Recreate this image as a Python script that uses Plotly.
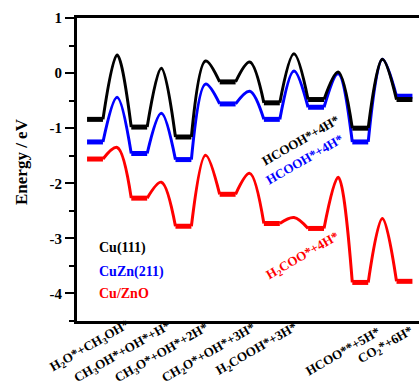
import plotly.graph_objects as go

# ---------------- data ----------------
series_names = ["Cu(111)", "CuZn(211)", "Cu/ZnO"]
state_labels = ["H<sub>2</sub>O*+CH<sub>3</sub>OH*",
                "CH<sub>3</sub>OH*+OH*+H*",
                "CH<sub>3</sub>O*+OH*+2H*",
                "CH<sub>2</sub>O*+OH*+3H*",
                "H<sub>2</sub>COOH*+3H*",
                "HCOO**+5H*",
                "CO<sub>2</sub>*+6H*"]
cu111_states = [-0.84, -0.98, -1.16, -0.16, -0.54, -0.48, -1.00, -0.48]
cu111_ts = [0.33, 0.09, 0.22, 0.20, 0.35, 0.02, 0.25]
cuzn_states = [-1.25, -1.46, -1.57, -0.56, -0.84, -0.62, -1.25, -0.42]
cuzn_ts = [-0.44, -0.73, -0.20, -0.33, 0.04, -0.01, 0.25]
cuzno_states = [-1.56, -2.27, -2.78, -2.20, -2.73, -2.82, -3.80, -3.78]
cuzno_ts = [-1.35, -1.98, -1.49, -1.82, -2.62, -1.89, -2.64]
y_ticks = [1, 0, -1, -2, -3, -4]
y_ticktext = ["1", "0", "-1", "-2", "-3", "-4"]

# ---------------- style ----------------
colors = ["#000000", "#0000FF", "#FF0000"]
FONT = "Liberation Serif"
W, H = 419, 385
ML, MR, MT, MB = 77, 0, 18, 64
PW, PH = W - ML - MR, H - MT - MB
HALF = 0.18  # plateau half width (x units)

def px(xp):
    return (xp - ML) / PW

def py(yp):
    return (MT + PH - yp) / PH

fig = go.Figure()
all_series = [(cuzno_states, cuzno_ts), (cuzn_states, cuzn_ts), (cu111_states, cu111_ts)]
order_colors = [colors[2], colors[1], colors[0]]
for (states, ts), col in zip(all_series, order_colors):
    # transition curves
    cx, cy = [], []
    for i, t in enumerate(ts):
        cx += [i + HALF, i + 0.5, i + 1 - HALF, None]
        cy += [states[i], t, states[i + 1], None]
    fig.add_trace(go.Scatter(x=cx, y=cy, mode="lines",
                             line=dict(color=col, width=3, shape="spline", smoothing=1.0),
                             connectgaps=False, hoverinfo="skip", showlegend=False))
    # plateaus
    plx, ply = [], []
    for i, s in enumerate(states):
        plx += [i - HALF, i + HALF, None]
        ply += [s, s, None]
    fig.add_trace(go.Scatter(x=plx, y=ply, mode="lines",
                             line=dict(color=col, width=5),
                             connectgaps=False, hoverinfo="skip", showlegend=False))

annotations = []
# legend texts
for name, col, yp in zip(series_names, colors, [248, 272, 293]):
    annotations.append(dict(text=name, xref="paper", yref="paper", x=px(97), y=py(yp),
                            xanchor="left", yanchor="middle", showarrow=False,
                            font=dict(family=FONT, size=14, color=col, weight="bold")))
# x category labels (rotated)
label_centers = [(89, 346), (122, 352), (161, 353), (208, 353), (256, 349), (342, 351), (385, 345)]
for lab, (xc, yc) in zip(state_labels, label_centers):
    annotations.append(dict(text=lab, xref="paper", yref="paper", x=px(xc), y=py(yc),
                            xanchor="center", yanchor="middle", textangle=-30, showarrow=False,
                            font=dict(family=FONT, size=13, color="black", weight="bold")))
# inline labels
inline = [("HCOOH*+4H*", colors[0], 300, 140),
          ("HCOOH*+4H*", colors[1], 304, 159),
          ("H<sub>2</sub>COO*+4H*", colors[2], 302, 256)]
for lab, col, xc, yc in inline:
    annotations.append(dict(text=lab, xref="paper", yref="paper", x=px(xc), y=py(yc),
                            xanchor="center", yanchor="middle", textangle=-30, showarrow=False,
                            font=dict(family=FONT, size=13, color=col, weight="bold")))
# y title
annotations.append(dict(text="Energy / eV", xref="paper", yref="paper", x=px(21), y=py(162),
                        xanchor="center", yanchor="middle", textangle=-90, showarrow=False,
                        font=dict(family=FONT, size=17, color="black", weight="bold")))

x0 = -(95 - ML) / 44.21
fig.update_layout(
    width=W, height=H,
    margin=dict(l=ML, r=MR, t=MT, b=MB),
    paper_bgcolor="white", plot_bgcolor="white",
    showlegend=False,
    annotations=annotations,
    xaxis=dict(range=[x0, x0 + PW / 44.21], showgrid=False, zeroline=False,
               showticklabels=False, ticks="", showline=True, linecolor="black",
               linewidth=3, mirror=True),
    yaxis=dict(range=[-4.5, 1], showgrid=False, zeroline=False,
               tickvals=y_ticks, ticktext=y_ticktext, ticks="outside", ticklen=9,
               tickwidth=2, tickcolor="black", showline=True, linecolor="black", linewidth=3,
               mirror=False,
               tickfont=dict(family=FONT, size=15, color="black", weight="bold"),
               minor=dict(ticks="outside", ticklen=5, tickwidth=2, dtick=0.5,
                          tickcolor="black", showgrid=False)),
)
fig.write_html("out.html", config={"displayModeBar": False},
               post_script="document.body.style.margin='0';document.body.style.overflow='hidden';")
